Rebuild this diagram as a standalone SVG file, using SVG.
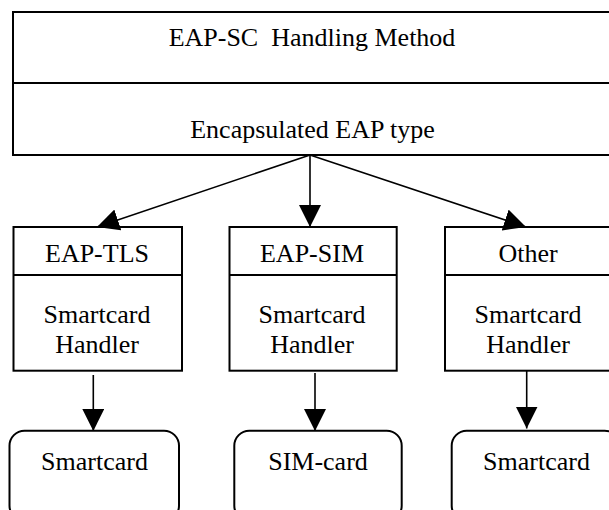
<svg xmlns="http://www.w3.org/2000/svg" width="609" height="510" viewBox="0 0 609 510">
<style>
.box{fill:#fff;stroke:#000;stroke-width:2}
.div{stroke:#000;stroke-width:2}
.t{font-family:'Liberation Serif','Times New Roman',serif;font-size:26px;fill:#000;text-anchor:middle}
.c{stroke:#000;stroke-width:1.6;fill:none}
</style>
<defs>
<marker id="ah" markerUnits="userSpaceOnUse" markerWidth="22" markerHeight="22" viewBox="0 0 20 20" refX="20" refY="10" orient="auto">
<path d="M0,0 L20,10 L0,20 z" fill="#000"/>
</marker>
</defs>
<rect width="609" height="510" fill="#fff"/>
<g id="method">
<rect class="box" x="13" y="12" width="610" height="143"/>
<line class="div" x1="13" y1="83" x2="623" y2="83"/>
<text class="t" x="312" y="46" xml:space="preserve">EAP-SC  Handling Method</text>
<text class="t" x="312.5" y="137.5">Encapsulated EAP type</text>
</g>
<g id="eaptls">
<rect class="box" x="13.5" y="227" width="168.5" height="143.7"/>
<line class="div" x1="13.5" y1="275" x2="182" y2="275"/>
<text class="t" x="97" y="261.5">EAP-TLS</text>
<text class="t" x="97" y="323">Smartcard</text>
<text class="t" x="97" y="353">Handler</text>
</g>
<g id="eapsim">
<rect class="box" x="229.5" y="227" width="167.2" height="143.7"/>
<line class="div" x1="229.5" y1="275" x2="396.7" y2="275"/>
<text class="t" x="312" y="261.5">EAP-SIM</text>
<text class="t" x="312" y="323">Smartcard</text>
<text class="t" x="312" y="353">Handler</text>
</g>
<g id="other">
<rect class="box" x="445" y="227" width="168" height="143.7"/>
<line class="div" x1="445" y1="275" x2="613" y2="275"/>
<text class="t" x="528" y="261.5">Other</text>
<text class="t" x="528" y="323">Smartcard</text>
<text class="t" x="528" y="353">Handler</text>
</g>
<g id="card1">
<rect class="box" x="9.5" y="430.7" width="169.5" height="90" rx="15" ry="15"/>
<text class="t" x="94.5" y="470">Smartcard</text>
</g>
<g id="card2">
<rect class="box" x="234.3" y="430.7" width="167.4" height="90" rx="15" ry="15"/>
<text class="t" x="318" y="470">SIM-card</text>
</g>
<g id="card3">
<rect class="box" x="451.7" y="430.7" width="168" height="90" rx="15" ry="15"/>
<text class="t" x="536.5" y="470">Smartcard</text>
</g>
<g id="connectors">
<line class="c" x1="310" y1="155" x2="97" y2="227" marker-end="url(#ah)"/>
<line class="c" x1="310" y1="155" x2="310" y2="227" marker-end="url(#ah)"/>
<line class="c" x1="310" y1="155" x2="526" y2="227" marker-end="url(#ah)"/>
<line class="c" x1="93.3" y1="375" x2="93.3" y2="431" marker-end="url(#ah)"/>
<line class="c" x1="315" y1="373" x2="315" y2="431" marker-end="url(#ah)"/>
<line class="c" x1="526.7" y1="371" x2="526.7" y2="428.5" marker-end="url(#ah)"/>
</g>
</svg>
